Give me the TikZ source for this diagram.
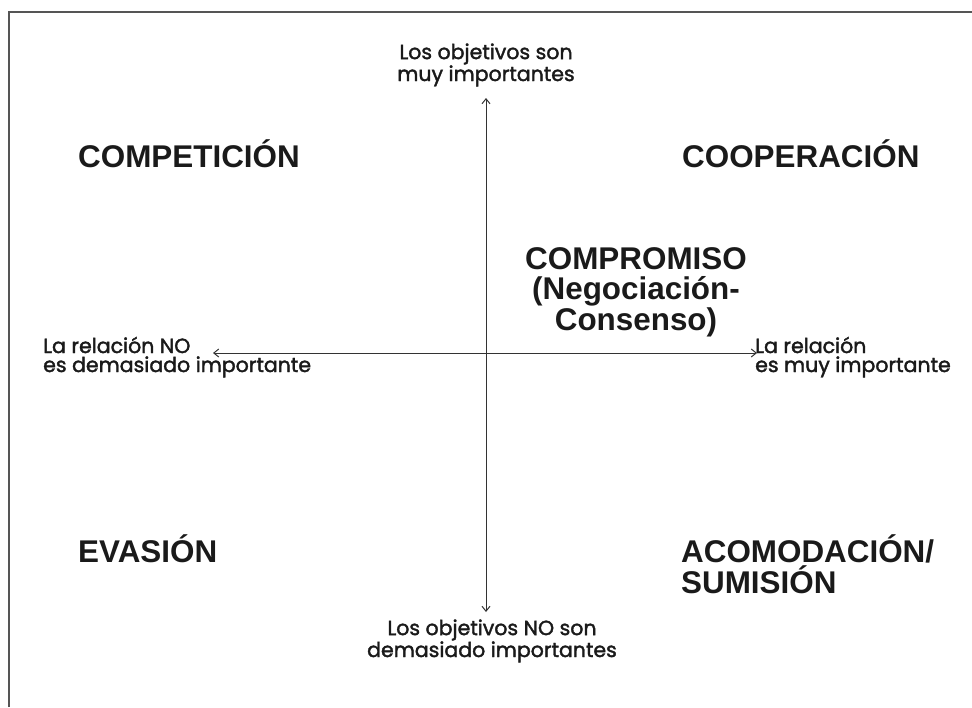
\documentclass[tikz,border=0pt]{standalone}
\usepackage{fontspec}
\setmainfont{Liberation Sans}
\newfontfamily\labelfont[FakeBold=1.8]{Poppins}
\usetikzlibrary{arrows.meta}
\definecolor{ink}{HTML}{1A1A1A}
\definecolor{axiscol}{HTML}{333333}
\definecolor{framecol}{HTML}{555555}
\begin{document}
\begin{tikzpicture}[x=1pt,y=-1pt,
  title/.style={font=\bfseries\fontsize{31.4}{30.5}\selectfont, text=ink, inner sep=0pt},
  axlabel/.style={font=\labelfont\fontsize{20.5}{19}\selectfont, text=ink, inner sep=0pt},
  axisline/.style={draw=axiscol, line width=1pt,
    {Straight Barb[length=5pt,width=8pt]}-{Straight Barb[length=5pt,width=8pt]}}]
\useasboundingbox (0,0) rectangle (972,707);
\draw[framecol, line width=2.2pt] (9,707) -- (9,12) -- (972,12);
% axes
\coordinate (top) at (486,98);
\coordinate (bottom) at (486,612);
\coordinate (left) at (213,353);
\coordinate (right) at (757,353);
\draw[axisline] (top) -- (bottom);
\draw[axisline] (left) -- (right);
% axis labels (base anchor = baseline of last line)
\node[axlabel, align=center, anchor=base] (goalhi) at (486,81) {Los objetivos son\\muy importantes};
\node[axlabel, align=center, anchor=base] (goallo) at (492,657) {Los objetivos NO son\\demasiado importantes};
\node[axlabel, align=left, anchor=base west] (rello) at (43,372) {La relación NO\\es demasiado importante};
\node[axlabel, align=left, anchor=base west] (relhi) at (755,372) {La relación\\es muy importante};
% quadrant titles
\node[title, anchor=base west] (comp) at (78,167) {COMPETICIÓN};
\node[title, anchor=base west] (coop) at (682,167) {COOPERACIÓN};
\node[title, align=center, anchor=base] (compro) at (636,330) {COMPROMISO\\(Negociación-\\Consenso)};
\node[title, anchor=base west] (evas) at (78,562) {EVASIÓN};
\node[title, align=left, anchor=base west] (acom) at (681,593) {ACOMODACIÓN/\\SUMISIÓN};
\end{tikzpicture}
\end{document}
